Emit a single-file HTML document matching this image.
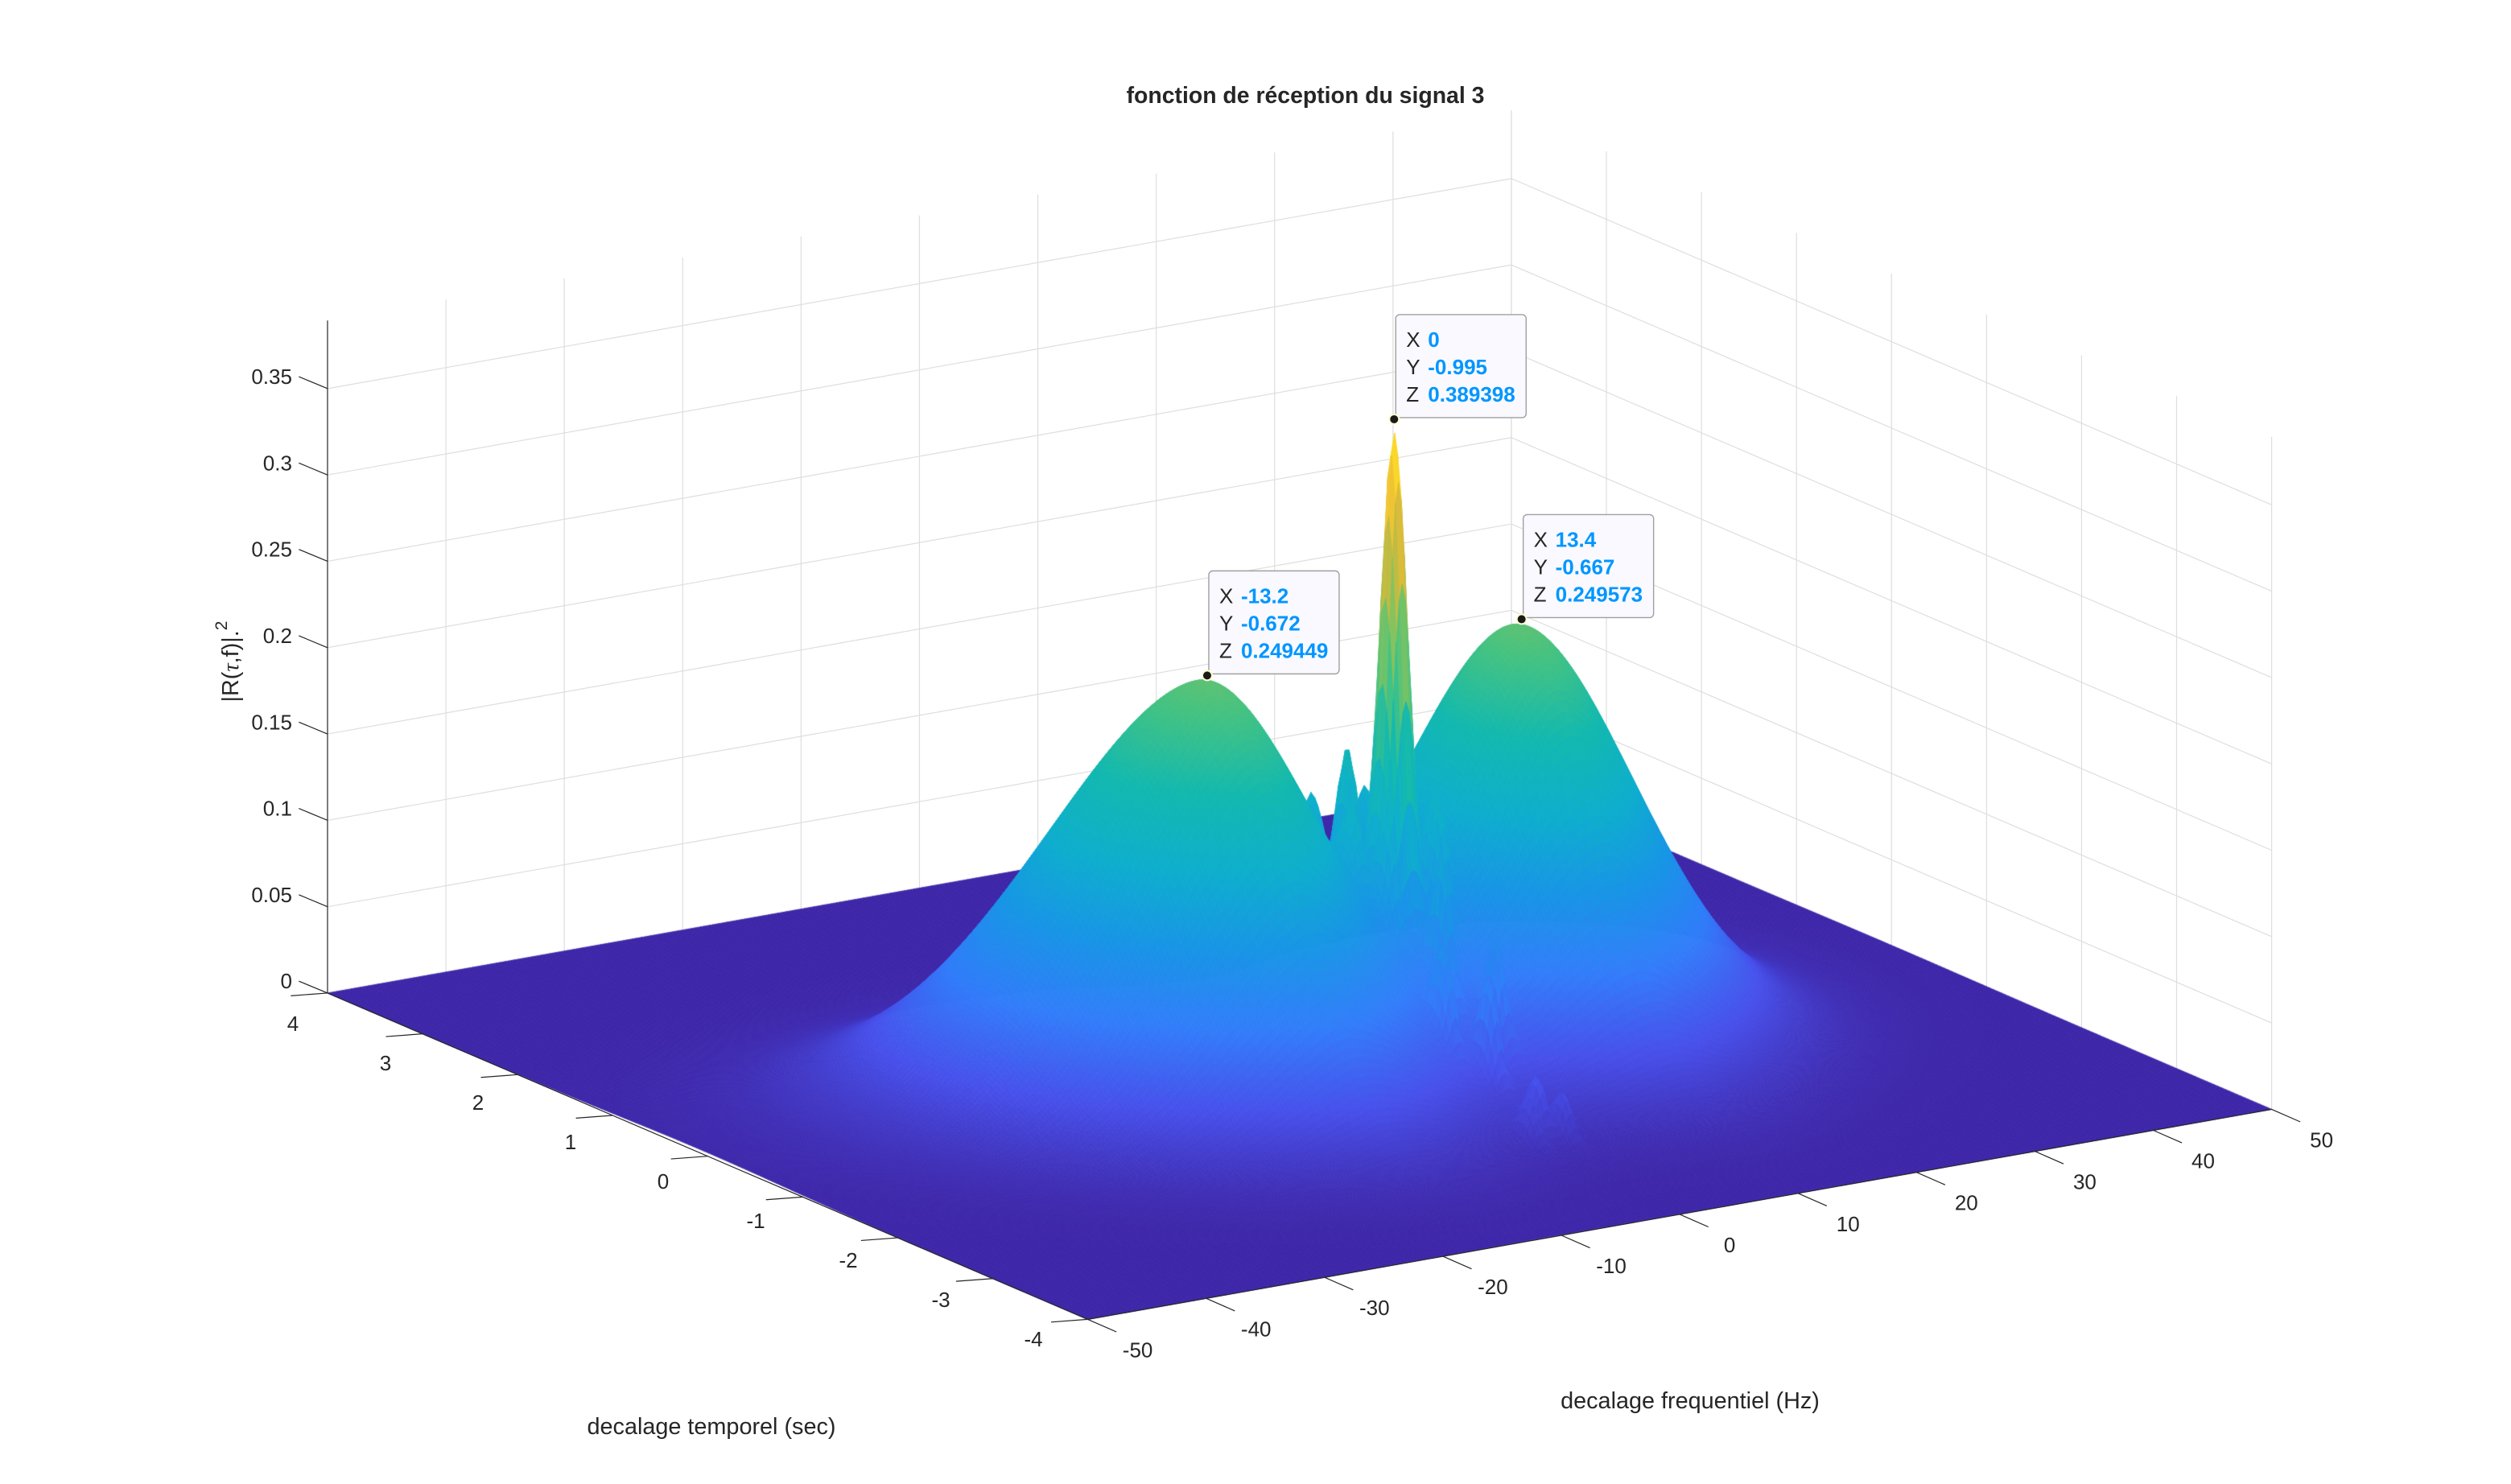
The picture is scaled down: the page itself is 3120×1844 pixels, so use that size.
<!DOCTYPE html>
<html>
<head>
<meta charset="utf-8">
<style>
html,body{margin:0;padding:0;background:#fff;}
#wrap{position:relative;width:3120px;height:1844px;overflow:hidden;background:#fff;}
svg,canvas{position:absolute;left:0;top:0;}
text{font-family:"Liberation Sans",Arial,sans-serif;fill:#262626;}
</style>
</head>
<body>
<div id="wrap">
<svg id="gridsvg" width="3120" height="1844" viewBox="0 0 1560 922"></svg>
<canvas id="cv" width="3120" height="1844"></canvas>
<svg id="axsvg" width="3120" height="1844" viewBox="0 0 1560 922">
  <text x="811" y="64" text-anchor="middle" font-size="14.2" font-weight="bold">fonction de réception du signal 3</text>
  <text x="442" y="891" text-anchor="middle" font-size="14.4">decalage temporel (sec)</text>
  <text x="1050" y="875" text-anchor="middle" font-size="14.4">decalage frequentiel (Hz)</text>
  <text transform="translate(148,411) rotate(-90)" text-anchor="middle" font-size="14.4">|R(<tspan font-style="italic" font-family="Liberation Serif, serif">τ</tspan>,f)|.<tspan dy="-7" font-size="10.5">2</tspan></text>
</svg>
</div>
<script>
// ---- data ----
const fTicks = [-50,-40,-30,-20,-10,0,10,20,30,40,50];
const tauTicks = [-4,-3,-2,-1,0,1,2,3,4];
const zTicks = [0,0.05,0.1,0.15,0.2,0.25,0.3,0.35];
const zLim = [0,0.389398];
// main humps (frequency centre, delay centre, height, widths)
const humpF = [-13.2, 13.4];
const humpT = [-0.672, -0.667];
const humpH = [0.244, 0.244];
const humpSFin = [7.5, 7.5];
const humpSFout = [10.5, 9];
const humpST = [0.9, 0.85];
const humpShear = [0.02, 0.02];
const humpPow = [1.8, 1.8];
// central spike
const spikeF = [0];
const spikeT = [-0.995];
const spikeH = [0.27];
const spikeSF = [0.8];
const spikeST = [0.1];
// side lobes around the central spike
const lobeF = [0,0,0,0,0,0,-2.2,-2.2,-2.2,2.2,2.2,2.2,-1.4,1.4,-3.5,3.5];
const lobeT = [-2.5,-2.0,-1.5,-0.5,0.0,0.5,-1.8,-1.2,-0.4,-1.8,-1.2,-0.4,-2.6,-2.6,-1.0,-1.0];
const lobeH = [0.03,0.05,0.07,0.07,0.05,0.03,0.05,0.06,0.04,0.05,0.06,0.04,0.025,0.025,0.04,0.04];
// data tips
const tipX = [0, -13.2, 13.4];
const tipY = [-0.995, -0.672, -0.667];
const tipZ = [0.389398, 0.249449, 0.249573];
const tipLabX = ['0','-13.2','13.4'];
const tipLabY = ['-0.995','-0.672','-0.667'];
const tipLabZ = ['0.389398','0.249449','0.249573'];

// ---- projection ----
function P(f,t,z){
  return [675.8 + (f+50)*7.355 - (t+4)*59.04,
          819.7 - (f+50)*1.305 - (t+4)*25.34 - (z-zLim[0])*1073];
}
const NS='http://www.w3.org/2000/svg';
function mk(parent,tag,attrs){const e=document.createElementNS(NS,tag);for(const k in attrs)e.setAttribute(k,attrs[k]);parent.appendChild(e);return e;}

// ---- grid ----
const g = document.getElementById('gridsvg');
const gc = {stroke:'#dedede','stroke-width':0.6,fill:'none'};
fTicks.forEach(f=>{ if(f===-50) return;
  const a=P(f,4,0), b=P(f,4,zLim[1]);
  const l=mk(g,'line',Object.assign({x1:a[0],y1:a[1],x2:b[0],y2:b[1]},gc));
   
});
tauTicks.forEach(t=>{
  const a=P(50,t,0), b=P(50,t,zLim[1]);
  const l=mk(g,'line',Object.assign({x1:a[0],y1:a[1],x2:b[0],y2:b[1]},gc));
   
});
zTicks.forEach(z=>{ if(z===0) return;
  const a=P(-50,4,z), b=P(50,4,z), c=P(50,-4,z);
  const l=mk(g,'polyline',Object.assign({points:a.join(',')+' '+b.join(',')+' '+c.join(',')},gc));
   
});

// ---- surface ----
const PAR=[[62,38,168],[71,80,235],[50,125,250],[25,150,230],[15,175,205],[20,185,175],[70,195,130],[140,195,90],[210,185,60],[250,200,50],[249,251,14]];
function parula(v){
  let t=(v-zLim[0])/(zLim[1]-zLim[0]); t=Math.max(0,Math.min(1,t))*10;
  const i=Math.min(9,Math.floor(t)), fr=t-i, a=PAR[i], b=PAR[i+1];
  return 'rgb('+Math.round(a[0]+(b[0]-a[0])*fr)+','+Math.round(a[1]+(b[1]-a[1])*fr)+','+Math.round(a[2]+(b[2]-a[2])*fr)+')';
}
function Z(f,t){
  let z=0;
  for(let i=0;i<humpF.length;i++){
    const df=f-humpF[i];
    const outward = Math.sign(humpF[i])*df > 0;
    const sf = outward ? humpSFout[i] : humpSFin[i];
    const tc = humpT[i] + (outward ? humpShear[i]*Math.abs(df) : 0);
    z+=humpH[i]*Math.exp(-0.5*Math.pow(Math.abs(df)/sf,humpPow[i])-((t-tc)**2)/(2*humpST[i]**2));
  }
  for(let i=0;i<spikeF.length;i++) z+=spikeH[i]*Math.exp(-((f-spikeF[i])**2)/(2*spikeSF[i]**2)-((t-spikeT[i])**2)/(2*spikeST[i]**2));
  for(let i=0;i<lobeF.length;i++) z+=lobeH[i]*Math.exp(-((f-lobeF[i])**2)/(2*0.45*0.45)-((t-lobeT[i])**2)/(2*0.09*0.09));
  return z;
}
const cv=document.getElementById('cv'), ctx=cv.getContext('2d');
ctx.scale(2,2);
const fs=[], ts=[];
for(let f=-50;f<=50.0001;f+=0.25) fs.push(f);
for(let t=-4;t<=4.0001;t+=0.04) ts.push(t);
const NF=fs.length, NT=ts.length;
const X=new Float32Array(NF*NT), Y=new Float32Array(NF*NT), ZZ=new Float32Array(NF*NT);
for(let j=0;j<NT;j++)for(let i=0;i<NF;i++){const z=Z(fs[i],ts[j]);const p=P(fs[i],ts[j],z);const k=j*NF+i;X[k]=p[0];Y[k]=p[1];ZZ[k]=z;}
const quads=[];
for(let j=0;j<NT-1;j++)for(let i=0;i<NF-1;i++) quads.push(j*NF+i);
const keys=new Float32Array(NF*NT);
quads.forEach(q=>{const i=q%NF,j=(q/NF)|0;keys[q]=1.305*fs[i]+25.34*ts[j];});
quads.sort((a,b)=>keys[b]-keys[a]);
ctx.lineWidth=0.4; ctx.lineJoin='round';
for(const q of quads){
  const a=q,b=q+1,c=q+NF+1,d=q+NF;
  const col=parula((ZZ[a]+ZZ[b]+ZZ[c]+ZZ[d])/4);
  ctx.fillStyle=col; ctx.strokeStyle=col;
  ctx.beginPath();ctx.moveTo(X[a],Y[a]);ctx.lineTo(X[b],Y[b]);ctx.lineTo(X[c],Y[c]);ctx.lineTo(X[d],Y[d]);ctx.closePath();
  ctx.fill();ctx.stroke();
}

// ---- axes ----
const ax=document.getElementById('axsvg');
const lc={stroke:'#262626','stroke-width':0.6,fill:'none'};
let e;
e=mk(ax,'line',Object.assign({x1:P(-50,4,0)[0],y1:P(-50,4,0)[1],x2:P(-50,4,zLim[1])[0],y2:P(-50,4,zLim[1])[1]},lc));
 
e=mk(ax,'line',Object.assign({x1:P(-50,4,0)[0],y1:P(-50,4,0)[1],x2:P(-50,-4,0)[0],y2:P(-50,-4,0)[1]},lc));
 
e=mk(ax,'line',Object.assign({x1:P(-50,-4,0)[0],y1:P(-50,-4,0)[1],x2:P(50,-4,0)[0],y2:P(50,-4,0)[1]},lc));
 
zTicks.forEach(z=>{
  const a=P(-50,4,z);
  e=mk(ax,'line',Object.assign({x1:a[0],y1:a[1],x2:a[0]-17.8,y2:a[1]-7.4},lc));
   
  e=mk(ax,'text',{x:a[0]-22,y:a[1]-7.4+4.5,'text-anchor':'end','font-size':13});
  e.textContent=String(z);
   
});
tauTicks.forEach(t=>{
  const a=P(-50,t,0);
  e=mk(ax,'line',Object.assign({x1:a[0],y1:a[1],x2:a[0]-22.8,y2:a[1]+1.7},lc));
   
  e=mk(ax,'text',{x:642-(t+4)*57.5,y:832-(t+4)*24.5+4.5,'text-anchor':'middle','font-size':13});
  e.textContent=String(t);
   
});
fTicks.forEach(f=>{
  const a=P(f,-4,0);
  e=mk(ax,'line',Object.assign({x1:a[0],y1:a[1],x2:a[0]+17.8,y2:a[1]+7.8},lc));
   
  e=mk(ax,'text',{x:a[0]+31,y:a[1]+19+4.5,'text-anchor':'middle','font-size':13});
  e.textContent=String(f);
   
});

// ---- data tips ----
for(let i=0;i<tipX.length;i++){
  const p=P(tipX[i],tipY[i],tipZ[i]);
  const grp=mk(ax,'g',{});
  
  
  const bx=p[0]+1, by=p[1]-65;
  mk(grp,'rect',{x:bx,y:by,width:81,height:64,rx:2.5,fill:'#f9f9ff',stroke:'#a0a0a0','stroke-width':0.7});
  const labs=['X','Y','Z'], vals=[tipLabX[i],tipLabY[i],tipLabZ[i]];
  for(let r=0;r<3;r++){
    const t=mk(grp,'text',{x:bx+6.5,y:by+15.5+r*17+4.6,'font-size':13});
    t.textContent=labs[r];
    const v=mk(grp,'text',{x:bx+20,y:by+15.5+r*17+4.6,'font-size':13,'font-weight':'bold',style:'fill:#0096ff'});
    v.textContent=vals[r];
  }
  const dot=mk(grp,'circle',{cx:p[0],cy:p[1],r:3,fill:'#1a1a1a',stroke:'#fffbd0','stroke-width':1});
  
  
}
</script>
</body>
</html>
